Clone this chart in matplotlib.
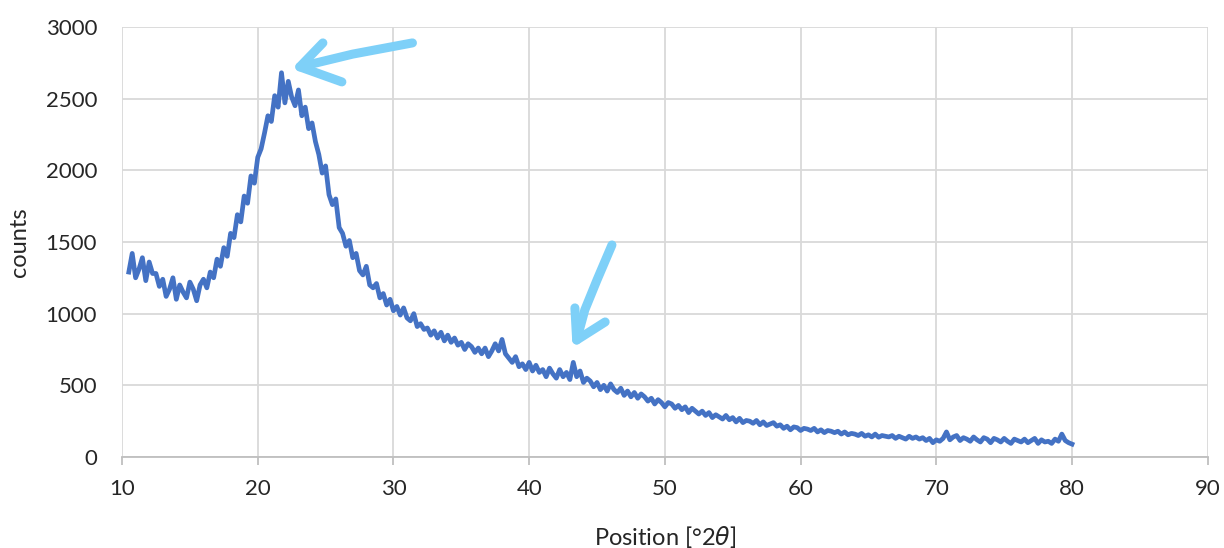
import numpy as np
import matplotlib.pyplot as plt

# scan, 0.25 deg steps from 10.5 to 80.0
two_theta = np.arange(10.5, 80.01, 0.25)
counts = [
    1290, 1420, 1250, 1310, 1390, 1230, 1360, 1280,
    1280, 1190, 1240, 1120, 1170, 1250, 1100, 1200,
    1150, 1110, 1220, 1170, 1090, 1200, 1240, 1180,
    1290, 1250, 1380, 1330, 1460, 1400, 1560, 1530,
    1690, 1640, 1820, 1770, 1960, 1910, 2090, 2150,
    2260, 2380, 2340, 2520, 2440, 2680, 2470, 2620,
    2510, 2450, 2560, 2380, 2440, 2290, 2330, 2200,
    2110, 1980, 2030, 1830, 1760, 1800, 1600, 1560,
    1470, 1510, 1390, 1420, 1300, 1270, 1330, 1200,
    1180, 1210, 1110, 1140, 1060, 1100, 1020, 1050,
    990, 1040, 970, 950, 1000, 910, 930, 890,
    900, 850, 880, 830, 870, 810, 850, 800,
    830, 780, 800, 750, 790, 770, 730, 760,
    720, 760, 700, 740, 790, 740, 820, 720,
    690, 660, 700, 630, 650, 610, 660, 600,
    640, 590, 610, 560, 620, 580, 550, 610,
    560, 590, 540, 660, 560, 600, 520, 550,
    530, 490, 520, 470, 500, 460, 510, 470,
    450, 480, 430, 460, 420, 450, 410, 440,
    420, 390, 410, 370, 400, 380, 350, 380,
    370, 340, 360, 330, 350, 310, 340, 320,
    300, 320, 290, 310, 275, 295, 280, 265,
    290, 260, 275, 245, 270, 240, 255, 250,
    235, 255, 225, 245, 220, 230, 240, 215,
    225, 200, 215, 190, 210, 205, 185, 200,
    195, 185, 200, 175, 190, 170, 185, 180,
    170, 180, 160, 175, 155, 165, 160, 150,
    165, 145, 155, 140, 160, 138, 150, 145,
    140, 150, 130, 145, 135, 125, 145, 130,
    140, 125, 135, 115, 130, 100, 120, 110,
    130, 175, 120, 140, 150, 115, 135, 125,
    110, 140, 120, 105, 135, 125, 100, 130,
    120, 105, 130, 110, 95, 125, 115, 105,
    125, 100, 115, 130, 95, 120, 105, 110,
    95, 125, 110, 160, 115, 100, 90,
]

x_ticks = [10, 20, 30, 40, 50, 60, 70, 80, 90]
y_ticks = [0, 500, 1000, 1500, 2000, 2500, 3000]

# hand drawn arrows (shaft, barbs) in data units
arrow_1 = ([31.4, 27.0, 23.1], [2888, 2810, 2721])
arrow_1_head = ([24.8, 23.1, 26.2], [2888, 2721, 2616])
arrow_2 = ([46.1, 45.0, 44.1, 43.5], [1479, 1235, 1026, 816])
arrow_2_head = ([43.37, 43.5, 45.6], [1040, 816, 942])

plt.rcParams['font.family'] = ['Lato', 'DejaVu Sans']

fig = plt.figure(figsize=(12.24, 5.48), dpi=100)
ax = fig.add_axes([0.0997, 0.166, 0.887, 0.785])

ax.plot(two_theta, counts[:len(two_theta)], color='#4472C4', lw=3.4,
        solid_joinstyle='round', zorder=3)

arrow_col = '#7ED0F8'
for xs, ys in (arrow_1, arrow_1_head, arrow_2, arrow_2_head):
    ax.plot(xs, ys, color=arrow_col, lw=6.5, solid_capstyle='round',
            solid_joinstyle='round', zorder=4, clip_on=False)

ax.set_xlim(10, 90)
ax.set_ylim(0, 3000)
ax.set_xticks(x_ticks)
ax.set_yticks(y_ticks)
ax.grid(True, color='#D9D9D9', lw=1.3)
ax.set_axisbelow(True)

for side in ('top', 'right', 'left'):
    ax.spines[side].set_visible(False)
ax.spines['bottom'].set_color('#BFBFBF')
ax.spines['bottom'].set_linewidth(1.3)

ax.tick_params(axis='x', length=6, width=1.3, color='#BFBFBF', pad=10,
               labelsize=16, labelcolor='#262626')
ax.tick_params(axis='y', length=0, pad=18, labelsize=16, labelcolor='#262626')

ax.set_xlabel(r'Position [°2$\theta$]', fontsize=17, color='#262626', labelpad=18)
ax.set_ylabel('counts', fontsize=17, color='#262626', labelpad=11)

fig.savefig('out.png', dpi=100)
